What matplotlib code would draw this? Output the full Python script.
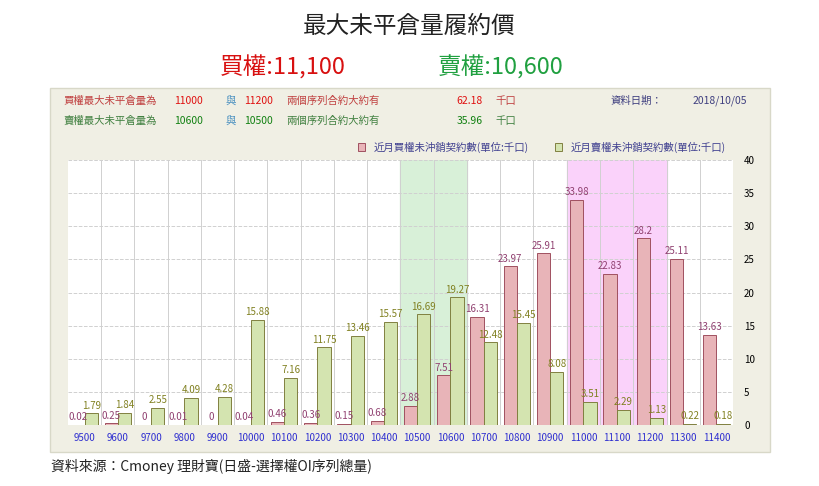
import numpy as np
import matplotlib.pyplot as plt
from matplotlib.patches import Rectangle

plt.rcParams['font.family'] = ['Noto Sans CJK JP', 'Noto Sans CJK TC', 'DejaVu Sans']

strikes = ['9500', '9600', '9700', '9800', '9900', '10000', '10100', '10200', '10300', '10400',
           '10500', '10600', '10700', '10800', '10900', '11000', '11100', '11200', '11300', '11400']
call_oi = [0.02, 0.25, 0, 0.01, 0, 0.04, 0.46, 0.36, 0.15, 0.68,
           2.88, 7.51, 16.31, 23.97, 25.91, 33.98, 22.83, 28.2, 25.11, 13.63]
put_oi = [1.79, 1.84, 2.55, 4.09, 4.28, 15.88, 7.16, 11.75, 13.46, 15.57,
          16.69, 19.27, 12.48, 15.45, 8.08, 3.51, 2.29, 1.13, 0.22, 0.18]

fig = plt.figure(figsize=(8.19, 4.86), dpi=100)
fig.patches.append(Rectangle((50 / 819, 1 - 452 / 486), 720 / 819, 364 / 486,
                             transform=fig.transFigure, facecolor='#f0efe4',
                             edgecolor='#d8d8c8', zorder=-5))

fig.text(0.5, 0.945, '最大未平倉量履約價', ha='center', va='center', fontsize=17, color='#222222')
fig.text(0.268, 0.862, '買權:11,100', ha='left', va='center', fontsize=17, color='#d81010')
fig.text(0.535, 0.862, '賣權:10,600', ha='left', va='center', fontsize=17, color='#20a040')

# info rows
fs = 7.5
y1, y2 = 1 - 101 / 486, 1 - 121 / 486
fig.text(0.077, y1, '買權最大未平倉量為', color='#c04040', fontsize=fs, va='center')
fig.text(0.213, y1, '11000', color='#e01010', fontsize=fs, va='center')
fig.text(0.275, y1, '與', color='#4a90c0', fontsize=fs, va='center')
fig.text(0.298, y1, '11200', color='#e01010', fontsize=fs, va='center')
fig.text(0.350, y1, '兩個序列合約大約有', color='#c04040', fontsize=fs, va='center')
fig.text(0.557, y1, '62.18', color='#e01010', fontsize=fs, va='center')
fig.text(0.605, y1, '千口', color='#c04040', fontsize=fs, va='center')
fig.text(0.745, y1, '資料日期：', color='#404080', fontsize=fs, va='center')
fig.text(0.845, y1, '2018/10/05', color='#404080', fontsize=fs, va='center')
fig.text(0.077, y2, '賣權最大未平倉量為', color='#408040', fontsize=fs, va='center')
fig.text(0.213, y2, '10600', color='#108010', fontsize=fs, va='center')
fig.text(0.275, y2, '與', color='#4a90c0', fontsize=fs, va='center')
fig.text(0.298, y2, '10500', color='#108010', fontsize=fs, va='center')
fig.text(0.350, y2, '兩個序列合約大約有', color='#408040', fontsize=fs, va='center')
fig.text(0.557, y2, '35.96', color='#108010', fontsize=fs, va='center')
fig.text(0.605, y2, '千口', color='#408040', fontsize=fs, va='center')

ax = fig.add_axes([0.083, 0.1255, 0.812, 0.545])
ax.set_zorder(2)
ax.set_facecolor('white')
x = np.arange(len(strikes))
w = 0.4
ax.axvspan(9.5, 11.5, color='#d8f0d8', zorder=0)
ax.axvspan(14.5, 17.5, color='#fad2fa', zorder=0)
ax.bar(x - w / 2, call_oi, w, color='#e8b4b8', edgecolor='#a05060', linewidth=0.7,
       label='近月買權未沖銷契約數(單位:千口)', zorder=2)
ax.bar(x + w / 2, put_oi, w, color='#d4e4b0', edgecolor='#808040', linewidth=0.7,
       label='近月賣權未沖銷契約數(單位:千口)', zorder=2)
for i in x:
    ax.text(i - w / 2, call_oi[i] + 0.4, f'{call_oi[i]:g}', ha='center', va='bottom',
            fontsize=7, color='#904070', zorder=3)
    ax.text(i + w / 2, put_oi[i] + 0.4, f'{put_oi[i]:g}', ha='center', va='bottom',
            fontsize=7, color='#808020', zorder=3)

ax.set_xlim(-0.5, len(strikes) - 0.5)
ax.set_ylim(0, 40)
ax.set_yticks(range(0, 41, 5))
ax.yaxis.tick_right()
ax.tick_params(axis='y', length=0, labelsize=7, pad=8)
ax.set_xticks(x)
ax.set_xticklabels(strikes, color='#3030d0', fontsize=7)
ax.tick_params(axis='x', length=0, pad=6)
ax.set_xticks(x + 0.5, minor=True)
ax.tick_params(axis='x', which='minor', length=0)
ax.grid(axis='x', which='minor', color='#d0d0d0', linewidth=0.7, zorder=1)
ax.grid(axis='y', which='major', color='#d0d0d0', linestyle='--', linewidth=0.7, zorder=1)
ax.set_axisbelow(True)
for s in ax.spines.values():
    s.set_visible(False)
ax.legend(loc='lower right', bbox_to_anchor=(1.0, 1.0), ncol=2, frameon=False,
          fontsize=7.5, labelcolor='#404090', handlelength=0.7, handleheight=0.7,
          columnspacing=2.5, borderaxespad=0.3)

fig.text(0.062, 1 - 466 / 486, '資料來源：Cmoney 理財寶(日盛-選擇權OI序列總量)',
         fontsize=10, va='center', color='#222222')

fig.savefig('out.png', dpi=100)
